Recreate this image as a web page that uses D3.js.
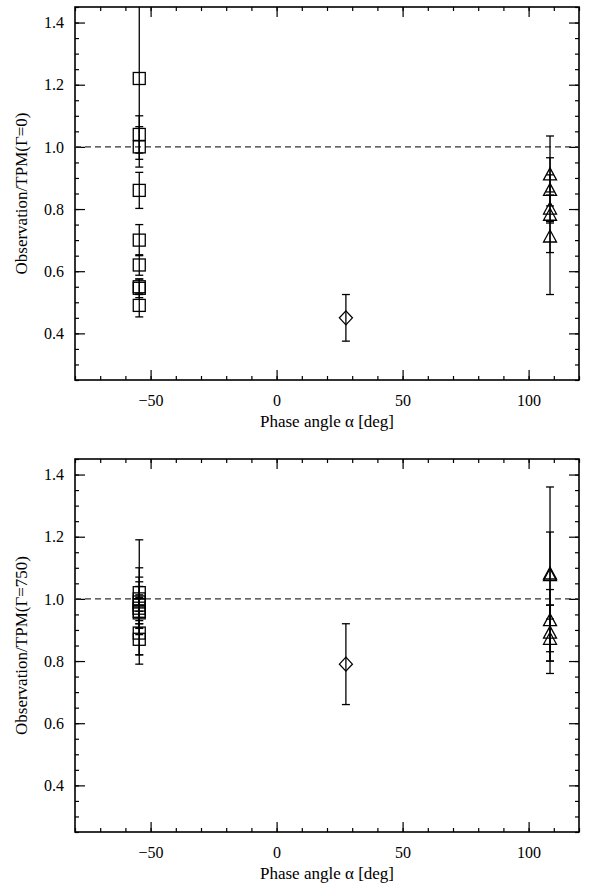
<!DOCTYPE html>
<html>
<head>
<meta charset="utf-8">
<script src="https://cdn.jsdelivr.net/npm/d3@7"></script>
<style>
  body { margin: 0; background: #fff; }
  svg { display: block; }
  text { font-family: "Times New Roman", "Liberation Serif", "DejaVu Serif", serif; fill: #000; }
</style>
</head>
<body>
<svg id="chart" width="593" height="890"></svg>
<script>
// phase angles of the three observation groups
var sqX = -54.5;
var triX = 108.5;
var diaX = 27.5;

// panel 1 : Gamma = 0
var sqTop = [1.22, 1.04, 1.00, 0.86, 0.70, 0.62, 0.55, 0.545, 0.49];
var sqTopErr = [0.26, 0.06, 0.065, 0.058, 0.05, 0.033, 0.025, 0.03, 0.037];
var triTop = [0.91, 0.86, 0.80, 0.78, 0.71];
var triTopErr = [0.055, 0.05, 0.045, 0.255, 0.05];
var diaTop = [0.45];
var diaTopErr = [0.075];

// panel 2 : Gamma = 750
var sqBot = [1.02, 1.00, 0.99, 0.98, 0.97, 0.96, 0.955, 0.89, 0.87];
var sqBotErr = [0.08, 0.07, 0.2, 0.06, 0.085, 0.053, 0.05, 0.07, 0.05];
var triBot = [1.08, 1.075, 0.93, 0.89, 0.87];
var triBotErr = [0.28, 0.14, 0.1, 0.09, 0.11];
var diaBot = [0.79];
var diaBotErr = [0.13];

var xMajor = [-50, 0, 50, 100];
var yMajor = [0.4, 0.6, 0.8, 1.0, 1.2, 1.4];

var FONT = '"Times New Roman", "Liberation Serif", "DejaVu Serif", serif';

var svg = d3.select("#chart");
var left = 75, right = 579;

var x = d3.scaleLinear().domain([-80, 120]).range([left, right]);
var xMinor = d3.range(-80, 121, 10);
var yMinor = d3.range(0.25, 1.451, 0.05);

function drawPanel(top, bottom, title, sets, id) {
  var y = d3.scaleLinear().domain([0.25, 1.45]).range([bottom, top]);
  var g = svg.append("g");

  g.append("clipPath").attr("id", id)
    .append("rect")
    .attr("x", left).attr("y", top)
    .attr("width", right - left).attr("height", bottom - top);

  // inward ticks on all four sides
  var axes = [
    [d3.axisBottom(x), bottom, "x"],
    [d3.axisTop(x), top, "x"],
    [d3.axisLeft(y), left, "y"],
    [d3.axisRight(y), right, "y"]
  ];
  axes.forEach(function (a) {
    var isX = a[2] == "x";
    var tr = isX ? "translate(0," + a[1] + ")" : "translate(" + a[1] + ",0)";
    g.append("g").attr("transform", tr)
      .call(a[0].scale(isX ? x : y).tickValues(isX ? xMinor : yMinor)
        .tickSizeInner(-4).tickSizeOuter(0).tickFormat(""))
      .call(function (s) { s.select(".domain").remove(); });
  });

  g.append("g").attr("transform", "translate(0," + bottom + ")")
    .call(d3.axisBottom(x).tickValues(xMajor).tickSizeInner(-10)
      .tickSizeOuter(0).tickPadding(15).tickFormat(d3.format("d")));
  g.append("g").attr("transform", "translate(0," + top + ")")
    .call(d3.axisTop(x).tickValues(xMajor).tickSizeInner(-10)
      .tickSizeOuter(0).tickFormat(""));
  g.append("g").attr("transform", "translate(" + left + ",0)")
    .call(d3.axisLeft(y).tickValues(yMajor).tickSizeInner(-10)
      .tickSizeOuter(0).tickPadding(11).tickFormat(d3.format(".1f")));
  g.append("g").attr("transform", "translate(" + right + ",0)")
    .call(d3.axisRight(y).tickValues(yMajor).tickSizeInner(-10)
      .tickSizeOuter(0).tickFormat(""));

  g.selectAll("g").attr("font-family", null).attr("font-size", null);
  g.selectAll(".domain").remove();
  g.selectAll(".tick line").attr("stroke", "#000").attr("stroke-width", 1.2);
  g.selectAll(".tick text").style("font-size", "16px").style("font-family", FONT);

  g.append("rect")
    .attr("x", left).attr("y", top)
    .attr("width", right - left).attr("height", bottom - top)
    .attr("fill", "none").attr("stroke", "#000").attr("stroke-width", 1.6);

  // reference line at ratio 1
  g.append("line")
    .attr("x1", left).attr("x2", right)
    .attr("y1", y(1)).attr("y2", y(1))
    .attr("stroke", "#333").attr("stroke-width", 1.2)
    .attr("stroke-dasharray", "6,4");

  var plot = g.append("g").attr("clip-path", "url(#" + id + ")");

  sets.forEach(function (s) {
    var px = x(s.x);
    s.vals.forEach(function (v, i) {
      var e = s.errs[i];
      plot.append("line")
        .attr("x1", px).attr("x2", px)
        .attr("y1", y(v - e)).attr("y2", y(v + e))
        .attr("stroke", "#000").attr("stroke-width", 1.3);
      [v - e, v + e].forEach(function (c) {
        plot.append("line")
          .attr("x1", px - 4).attr("x2", px + 4)
          .attr("y1", y(c)).attr("y2", y(c))
          .attr("stroke", "#000").attr("stroke-width", 1.3);
      });
    });
    s.vals.forEach(function (v) {
      var py = y(v);
      var sym;
      if (s.shape == "square") {
        sym = plot.append("rect")
          .attr("x", px - 6).attr("y", py - 6)
          .attr("width", 12).attr("height", 12);
      } else if (s.shape == "triangle") {
        sym = plot.append("path")
          .attr("d", "M" + (px - 6.5) + "," + (py + 5) + "L" + (px + 6.5) + "," + (py + 5) +
            "L" + px + "," + (py - 7) + "Z");
      } else {
        sym = plot.append("path")
          .attr("d", "M" + px + "," + (py - 7) + "L" + (px + 6.5) + "," + py +
            "L" + px + "," + (py + 7) + "L" + (px - 6.5) + "," + py + "Z");
      }
      sym.attr("fill", "none").attr("stroke", "#000").attr("stroke-width", 1.3);
    });
  });

  g.append("text")
    .attr("x", (left + right) / 2).attr("y", bottom + 47)
    .attr("text-anchor", "middle").style("font-size", "17px").style("font-family", FONT)
    .text("Phase angle \u03b1 [deg]");

  g.append("text")
    .attr("transform", "translate(27," + (top + bottom) / 2 + ") rotate(-90)")
    .attr("text-anchor", "middle").style("font-size", "17px").style("font-family", FONT)
    .text(title);
}

drawPanel(7, 380, "Observation/TPM(\u0393=0)", [
  { x: sqX, vals: sqTop, errs: sqTopErr, shape: "square" },
  { x: triX, vals: triTop, errs: triTopErr, shape: "triangle" },
  { x: diaX, vals: diaTop, errs: diaTopErr, shape: "diamond" }
], "clipTop");

drawPanel(459, 832, "Observation/TPM(\u0393=750)", [
  { x: sqX, vals: sqBot, errs: sqBotErr, shape: "square" },
  { x: triX, vals: triBot, errs: triBotErr, shape: "triangle" },
  { x: diaX, vals: diaBot, errs: diaBotErr, shape: "diamond" }
], "clipBot");
</script>
</body>
</html>
